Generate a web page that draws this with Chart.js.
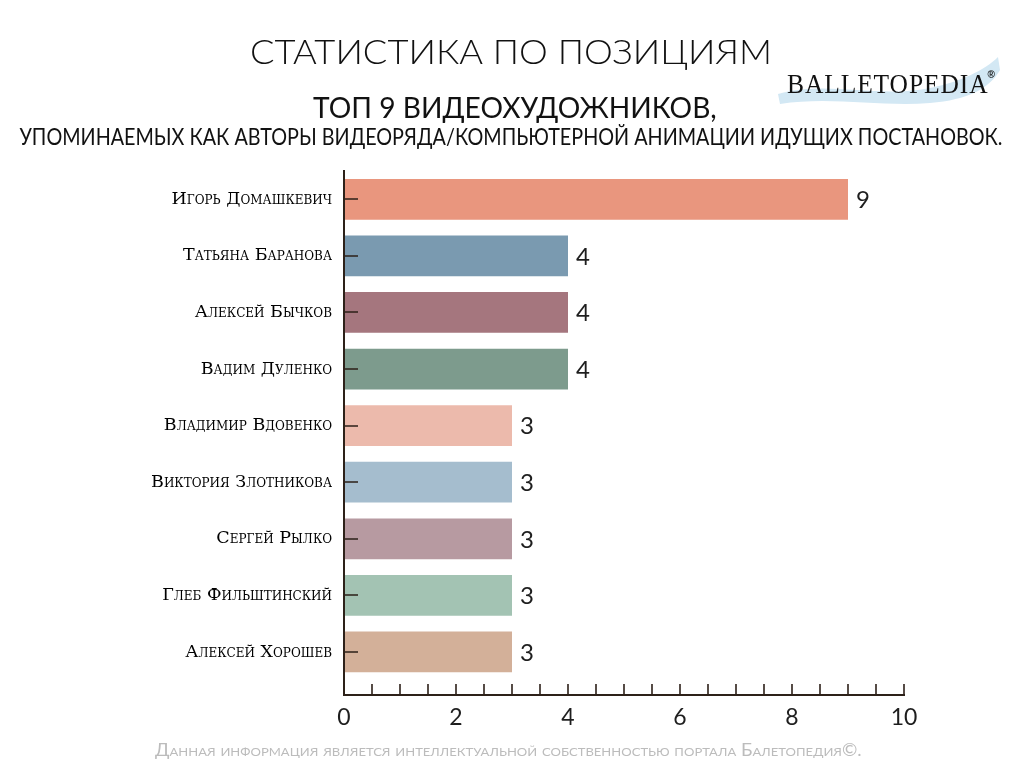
<!DOCTYPE html>
<html><head><meta charset="utf-8">
<script src="https://cdn.jsdelivr.net/npm/chart.js@4"></script>
<style>
html,body{margin:0;padding:0;background:#fff;}
#wrap{position:relative;width:1024px;height:768px;overflow:hidden;background:#fff;}
#c{position:absolute;left:0;top:0;width:1024px;height:768px;}
.t{position:absolute;white-space:nowrap;line-height:1;color:#1b1b1b;transform-origin:center top;}
#logo{position:absolute;left:0;top:0;}
</style></head><body>
<div id="wrap">
<svg id="logo" width="1024" height="768" viewBox="0 0 1024 768">
  <path d="M778,94 C830,80 875,99 930,88 C960,82 985,70 998,57 L1000,70 C990,88 968,100 930,103 C880,107 830,96 780,104 Z" fill="#d3e8f4"/>
</svg>
<canvas id="c" width="1024" height="768"></canvas>
<div class="t" id="title" style="font-family:Lato;font-weight:300;font-size:33px;color:#111;">СТАТИСТИКА ПО ПОЗИЦИЯМ</div>
<div class="t" id="sub1" style="font-family:Lato;font-size:29px;color:#111;">ТОП 9 ВИДЕОХУДОЖНИКОВ,</div>
<div class="t" id="sub2" style="font-family:Lato;font-size:23px;color:#111;">УПОМИНАЕМЫХ КАК АВТОРЫ ВИДЕОРЯДА/КОМПЬЮТЕРНОЙ АНИМАЦИИ ИДУЩИХ ПОСТАНОВОК.</div>
<div class="t" id="brand" style="font-family:'Liberation Serif';font-size:28px;letter-spacing:1px;color:#111;">BALLETOPEDIA</div>
<div class="t" id="reg" style="font-family:'Liberation Sans';font-weight:bold;font-size:10px;color:#111;">®</div>
<div class="t" id="foot" style="font-family:Lato;font-size:17px;font-variant:small-caps;color:#bcbcbc;">Данная информация является интеллектуальной собственностью портала Балетопедия©.</div>
</div>
<script>
const categories = ["Игорь Домашкевич","Татьяна Баранова","Алексей Бычков","Вадим Дуленко","Владимир Вдовенко","Виктория Злотникова","Сергей Рылко","Глеб Фильштинский","Алексей Хорошев"];
const values = [9,4,4,4,3,3,3,3,3];
const barColors = ["#E9967E","#7A9AB0","#A5767E","#7D9B8D","#ECBAAC","#A5BDCE","#B79AA1","#A3C3B3","#D3B099"];
const xMin = 0, xMax = 10, xLabelStep = 2, xMinorStep = 0.5;

function place(id, cx, top, targetW){
  const el = document.getElementById(id);
  const w = el.offsetWidth;
  const k = targetW ? targetW / w : 1;
  el.style.left = (cx - w/2) + 'px';
  el.style.top = top + 'px';
  el.style.transform = 'scaleX(' + k + ')';
}
place('title', 511, 34.5, 522);
place('sub1', 515, 92, 404);
place('sub2', 511, 125, 983);
place('brand', 887, 70, 201);
place('reg', 991, 70);
place('foot', 508, 741, 707);

const axisColor = '#2d2119';
const innerTicks = {
  id: 'innerTicks',
  afterDatasetsDraw(chart){
    const ctx = chart.ctx, xs = chart.scales.x, ys = chart.scales.y;
    const bottom = chart.chartArea.bottom, left = chart.chartArea.left;
    ctx.save();
    ctx.strokeStyle = axisColor;
    ctx.lineWidth = 1.6;
    ctx.beginPath();
    for (let v = xMin; v <= xMax + 1e-9; v += xMinorStep){
      const px = Math.round(xs.getPixelForValue(v));
      ctx.moveTo(px, bottom);
      ctx.lineTo(px, bottom - 11);
    }
    categories.forEach((c, i) => {
      const py = Math.round(ys.getPixelForValue(i));
      ctx.moveTo(left, py);
      ctx.lineTo(left + 14, py);
    });
    ctx.stroke();
    const meta = chart.getDatasetMeta(0);
    ctx.fillStyle = '#1e1e1e';
    ctx.font = '24px Lato';
    ctx.textBaseline = 'middle';
    ctx.textAlign = 'left';
    meta.data.forEach((bar, i) => {
      ctx.fillText(String(values[i]), bar.x + 8, bar.y + 1);
    });
    ctx.restore();
  }
};

new Chart(document.getElementById('c'), {
  type: 'bar',
  data: {
    datasets: [{
      data: values.map((v, i) => ({x: v, y: i})),
      backgroundColor: barColors,
      borderWidth: 0
    }]
  },
  options: {
    indexAxis: 'y',
    responsive: false,
    animation: false,
    devicePixelRatio: 1,
    layout: { padding: { top: 171, right: 120, bottom: 0, left: 0 } },
    plugins: { legend: { display: false }, tooltip: { enabled: false } },
    scales: {
      x: {
        type: 'linear', min: xMin, max: xMax,
        ticks: { stepSize: xLabelStep, color: '#1e1e1e', font: { family: 'Lato', size: 23 }, padding: 9 },
        grid: { display: false, drawTicks: false },
        border: { display: true, color: axisColor, width: 2, z: 1 },
        afterFit(s){ s.height = 73; }
      },
      y: {
        type: 'linear', reverse: true, min: -0.5, max: 8.76, offset: false,
        afterBuildTicks(axis){ axis.ticks = categories.map((c, i) => ({ value: i })); },
        ticks: {
          autoSkip: false,
          callback: (v) => categories[v],
          color: '#000',
          font: { family: 'DejaVu Serif', size: 17.5, weight: 'small-caps' },
          padding: 12
        },
        grid: { display: false, drawTicks: false, offset: false },
        border: { display: true, color: axisColor, width: 2, z: 1 },
        afterFit(s){ s.width = 344; }
      }
    }
  },
  plugins: [innerTicks]
});
</script>
</body></html>
